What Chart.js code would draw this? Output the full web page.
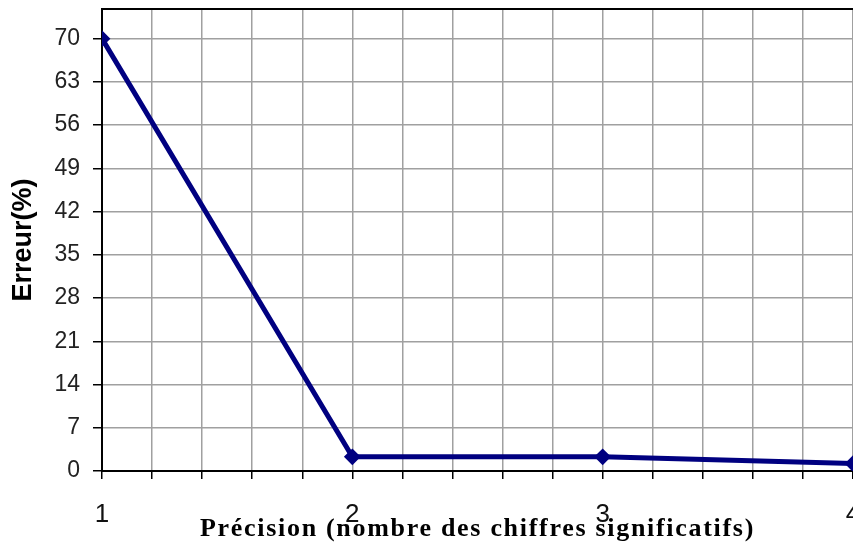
<!DOCTYPE html>
<html lang="fr">
<head>
<meta charset="utf-8">
<title>Erreur en fonction de la précision</title>
<script src="https://cdn.jsdelivr.net/npm/chart.js@4/dist/chart.umd.min.js"></script>
<style>
  html, body { margin: 0; padding: 0; background: #fff; overflow: hidden; }
  canvas { display: block; }
</style>
</head>
<body>
<canvas id="erreurChart" width="862" height="544"></canvas>
<script>
// nombre de chiffres significatifs et erreur relative (%)
const precision = [1, 2, 3, 4];
const erreur = [70, 2.3, 2.3, 1.2];
const yTicks = [0, 7, 14, 21, 28, 35, 42, 49, 56, 63, 70];
const xTitle = 'Précision (nombre des chiffres significatifs)';
const yTitle = 'Erreur(%)';

const points = precision.map((p, i) => ({ x: p, y: erreur[i] }));

// cadre du haut + titre de l'axe x (avec espacement des lettres)
const frame = {
  id: 'frame',
  afterDraw(chart) {
    const { ctx, chartArea } = chart;
    ctx.save();
    ctx.strokeStyle = '#000';
    ctx.lineWidth = 2;
    ctx.beginPath();
    ctx.moveTo(chartArea.left - 1, chartArea.top);
    ctx.lineTo(chartArea.right, chartArea.top);
    ctx.stroke();

    ctx.fillStyle = '#000';
    ctx.font = 'bold 26px "Liberation Serif", "Times New Roman", serif';
    ctx.letterSpacing = '1.7px';
    ctx.textAlign = 'center';
    ctx.textBaseline = 'alphabetic';
    ctx.fillText(xTitle, (chartArea.left + chartArea.right) / 2, 536);
    ctx.restore();
  }
};

new Chart(document.getElementById('erreurChart'), {
  type: 'line',
  data: {
    datasets: [{
      data: points,
      borderColor: '#000080',
      backgroundColor: '#000080',
      borderWidth: 5,
      pointStyle: 'rectRot',
      pointRadius: 7,
      pointBorderWidth: 2,
      pointBackgroundColor: '#000080',
      pointBorderColor: '#000080',
      tension: 0
    }]
  },
  options: {
    responsive: false,
    animation: false,
    layout: { padding: { top: 7, left: 0, right: 8, bottom: 0 } },
    plugins: {
      legend: { display: false },
      tooltip: { enabled: false }
    },
    scales: {
      x: {
        type: 'linear',
        min: 1,
        max: 4,
        afterFit(scale) {
          scale.height = 73;
          scale.paddingLeft = 0;
          scale.paddingRight = 0;
        },
        ticks: {
          stepSize: 0.2,
          autoSkip: false,
          maxRotation: 0,
          padding: 20,
          color: '#111',
          font: { family: '"Liberation Sans", Arial, sans-serif', size: 26 },
          callback: v => Math.abs(v - Math.round(v)) < 1e-6 ? String(Math.round(v)) : ''
        },
        grid: {
          color: '#a0a0a0',
          lineWidth: 1.5,
          tickColor: '#000',
          tickLength: 8,
          tickWidth: 1.5
        },
        border: { display: true, color: '#000', width: 2 }
      },
      y: {
        min: 0,
        max: 74.8,
        afterFit(scale) {
          scale.width = 102;
          scale.paddingTop = 0;
          scale.paddingBottom = 0;
        },
        afterBuildTicks(scale) {
          scale.ticks = yTicks.map(v => ({ value: v }));
        },
        ticks: {
          padding: 13,
          color: '#222',
          font: { family: '"Liberation Sans", Arial, sans-serif', size: 23 },
          callback: v => String(v)
        },
        grid: {
          color: '#a0a0a0',
          lineWidth: 1.5,
          tickColor: '#000',
          tickLength: 9,
          tickWidth: 1.5
        },
        border: { display: true, color: '#000', width: 2 },
        title: {
          display: true,
          text: yTitle,
          color: '#000',
          padding: { top: 7, bottom: 0 },
          font: { family: '"Liberation Sans", Arial, sans-serif', size: 27, weight: 'bold' }
        }
      }
    }
  },
  plugins: [frame]
});
</script>
</body>
</html>
